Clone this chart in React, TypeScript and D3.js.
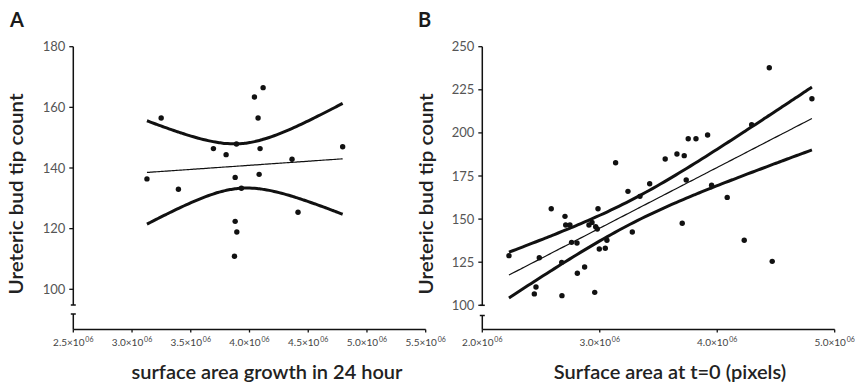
import React from "react";
import * as d3 from "d3";

// Panel A: surface area growth in 24 h (×10^6 pixels) vs ureteric bud tip count
const growthA = [3.127, 3.248, 3.395, 3.693, 3.801, 3.889, 3.878, 3.931, 3.878, 3.892, 3.872, 4.042, 4.116, 4.073, 4.09, 4.082, 4.362, 4.413, 4.793];
const tipsA = [136.4, 156.5, 133.0, 146.4, 144.4, 147.9, 136.9, 133.3, 122.4, 118.9, 110.9, 163.4, 166.5, 156.5, 146.4, 137.9, 142.9, 125.4, 147.0];

// Panel B: surface area at t=0 (×10^6 pixels) vs ureteric bud tip count
const areaB = [2.227, 2.485, 2.457, 2.443, 2.587, 2.676, 2.678, 2.704, 2.71, 2.746, 2.76, 2.806, 2.809, 2.871, 2.908, 2.934, 2.957, 2.965, 2.979, 2.985, 2.996, 3.047, 3.061, 3.135, 3.24, 3.277, 3.342, 3.425, 3.557, 3.657, 3.702, 3.719, 3.736, 3.753, 3.819, 3.918, 3.952, 4.085, 4.23, 4.293, 4.443, 4.468, 4.806];
const tipsB = [128.8, 127.6, 110.6, 106.6, 156.0, 124.9, 105.6, 151.6, 146.6, 146.6, 136.5, 136.1, 118.6, 122.2, 146.6, 148.1, 107.5, 145.6, 144.3, 156.0, 132.7, 133.1, 137.7, 182.7, 166.1, 142.5, 163.2, 170.5, 184.9, 187.8, 147.6, 186.8, 172.7, 196.6, 196.6, 198.8, 169.6, 162.6, 137.7, 204.7, 237.8, 125.5, 219.8];

const xTicksA = [2.5, 3.0, 3.5, 4.0, 4.5, 5.0, 5.5];
const yTicksA = [100, 120, 140, 160, 180];
const xTicksB = [2.0, 3.0, 4.0, 5.0];
const yTicksB = [100, 125, 150, 175, 200, 225, 250];

const FONT = "Lato, 'Open Sans', sans-serif";

function tQuantile975(df: number) {
  const z = 1.959964;
  const z3 = z ** 3, z5 = z ** 5, z7 = z ** 7;
  return (
    z +
    (z3 + z) / (4 * df) +
    (5 * z5 + 16 * z3 + 3 * z) / (96 * df * df) +
    (3 * z7 + 19 * z5 + 17 * z3 - 15 * z) / (384 * df ** 3)
  );
}

function regression(xs: number[], ys: number[]) {
  const n = xs.length;
  const mx = d3.mean(xs)!;
  const my = d3.mean(ys)!;
  let sxx = 0, sxy = 0;
  xs.forEach((x, i) => {
    sxx += (x - mx) ** 2;
    sxy += (x - mx) * (ys[i] - my);
  });
  const b = sxy / sxx;
  const a = my - b * mx;
  let sse = 0;
  xs.forEach((x, i) => (sse += (ys[i] - (a + b * x)) ** 2));
  const s = Math.sqrt(sse / (n - 2));
  const t = tQuantile975(n - 2);
  const [x0, x1] = d3.extent(xs) as [number, number];
  const samples = d3.range(81).map((i) => x0 + ((x1 - x0) * i) / 80);
  const fitLine = samples.map((x) => [x, a + b * x] as [number, number]);
  const half = (x: number) => t * s * Math.sqrt(1 / n + (x - mx) ** 2 / sxx);
  const upper = samples.map((x) => [x, a + b * x + half(x)] as [number, number]);
  const lower = samples.map((x) => [x, a + b * x - half(x)] as [number, number]);
  return { fitLine, upper, lower };
}

type PanelProps = {
  letter: string;
  letterX: number;
  xs: number[];
  ys: number[];
  xDomain: [number, number];
  xRange: [number, number];
  yDomain: [number, number];
  yRange: [number, number];
  xTicks: number[];
  yTicks: number[];
  breakTop: number;
  breakBottom: number;
  axisY: number;
  yTitleX: number;
  xTitle: string;
  xTitleX: number;
};

function Panel(p: PanelProps) {
  const x = d3.scaleLinear().domain(p.xDomain).range(p.xRange);
  const y = d3.scaleLinear().domain(p.yDomain).range(p.yRange);
  const { fitLine, upper, lower } = regression(p.xs, p.ys);
  const line = d3
    .line<[number, number]>()
    .x((d) => x(d[0]))
    .y((d) => y(d[1]))
    .curve(d3.curveMonotoneX);
  const ax = p.xRange[0];
  const yTop = y(p.yDomain[1]);
  return (
    <g>
      <text x={p.letterX} y={27} fontFamily={FONT} fontSize={20} fontWeight={700} fill="#1a1a1a">
        {p.letter}
      </text>
      {/* y axis with break */}
      <line x1={ax} x2={ax} y1={yTop} y2={p.breakTop} stroke="#111" strokeWidth={1.5} />
      <line x1={ax - 2.5} x2={ax + 2.5} y1={p.breakTop} y2={p.breakTop} stroke="#111" strokeWidth={1.5} />
      <line x1={ax} x2={ax} y1={p.breakBottom} y2={p.axisY} stroke="#111" strokeWidth={1.5} />
      <line x1={ax - 2.5} x2={ax + 2.5} y1={p.breakBottom} y2={p.breakBottom} stroke="#111" strokeWidth={1.5} />
      {p.yTicks.map((t) => (
        <g key={"y" + t}>
          <line x1={ax - 4} x2={ax} y1={y(t)} y2={y(t)} stroke="#111" strokeWidth={1.3} />
          <text
            x={ax - 8}
            y={y(t)}
            dy="0.35em"
            textAnchor="end"
            fontFamily={FONT}
            fontSize={13}
            fill="#555"
          >
            {t}
          </text>
        </g>
      ))}
      {/* x axis */}
      <line x1={p.xRange[0]} x2={p.xRange[1]} y1={p.axisY} y2={p.axisY} stroke="#111" strokeWidth={1.5} />
      {p.xTicks.map((t) => (
        <g key={"x" + t}>
          <line x1={x(t)} x2={x(t)} y1={p.axisY} y2={p.axisY + 3} stroke="#111" strokeWidth={1.3} />
          <text
            x={x(t)}
            y={p.axisY + 16}
            textAnchor="middle"
            fontFamily={FONT}
            fontSize={10}
            fill="#444"
          >
            {t.toFixed(1) + "×10"}
            <tspan fontSize={7} dy={-4}>
              {"\u200906"}
            </tspan>
          </text>
        </g>
      ))}
      {/* titles */}
      <text
        transform={`translate(${p.yTitleX},194) rotate(-90)`}
        textAnchor="middle"
        fontFamily={FONT}
        fontSize={20}
        fontWeight={600}
        fill="#222"
        textLength={201}
        lengthAdjust="spacingAndGlyphs"
      >
        Ureteric bud tip count
      </text>
      <text
        x={p.xTitleX}
        y={379}
        textAnchor="middle"
        fontFamily={FONT}
        fontSize={20}
        fontWeight={600}
        fill="#222"
      >
        {p.xTitle}
      </text>
      {/* regression and 95% confidence band */}
      <path d={line(upper)!} fill="none" stroke="#111" strokeWidth={3} />
      <path d={line(lower)!} fill="none" stroke="#111" strokeWidth={3} />
      <path d={line(fitLine)!} fill="none" stroke="#111" strokeWidth={1.2} />
      {p.xs.map((v, i) => (
        <circle key={i} cx={x(v)} cy={y(p.ys[i])} r={2.7} fill="#111" />
      ))}
    </g>
  );
}

export default function App() {
  return (
    <svg
      width={855}
      height={386}
      style={{ position: "absolute", left: 0, top: 0, background: "#fff" }}
    >
      <rect width={855} height={386} fill="#fff" />
      <Panel
        letter="A"
        letterX={10}
        xs={growthA}
        ys={tipsA}
        xDomain={[2.5, 5.5]}
        xRange={[73.3, 425.7]}
        yDomain={[100, 180]}
        yRange={[289.3, 46.7]}
        xTicks={xTicksA}
        yTicks={yTicksA}
        breakTop={305}
        breakBottom={314}
        axisY={329.5}
        yTitleX={23}
        xTitle="surface area growth in 24 hour"
        xTitleX={267}
      />
      <Panel
        letter="B"
        letterX={418}
        xs={areaB}
        ys={tipsB}
        xDomain={[2.0, 5.0]}
        xRange={[482.3, 834.7]}
        yDomain={[100, 250]}
        yRange={[305.3, 46.7]}
        xTicks={xTicksB}
        yTicks={yTicksB}
        breakTop={305.3}
        breakBottom={315.5}
        axisY={329.5}
        yTitleX={433}
        xTitle="Surface area at t=0 (pixels)"
        xTitleX={670}
      />
    </svg>
  );
}
